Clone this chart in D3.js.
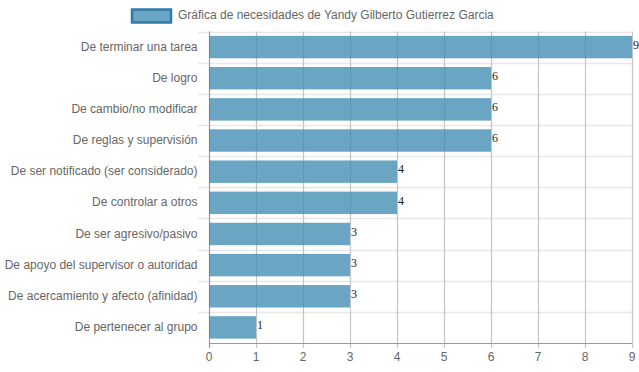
<!DOCTYPE html>
<html><head><meta charset="utf-8">
<script src="https://cdn.jsdelivr.net/npm/d3@7"></script>
<style>body{margin:0;background:#fff;} svg{display:block;font-family:"Liberation Sans",Arial,sans-serif;}</style>
</head><body>
<svg id="c" width="639" height="372"></svg>
<script>
const categories = ["De terminar una tarea","De logro","De cambio/no modificar","De reglas y supervisión","De ser notificado (ser considerado)","De controlar a otros","De ser agresivo/pasivo","De apoyo del supervisor o autoridad","De acercamiento y afecto (afinidad)","De pertenecer al grupo"];
const values = [9,6,6,6,4,4,3,3,3,1];
const xTicks = [0,1,2,3,4,5,6,7,8,9];
const seriesName = "Gráfica de necesidades de Yandy Gilberto Gutierrez Garcia";

(function(){
const svg = d3.select("#c");
const pLeft = 209, pRight = 632, pTop = 31.5, pBottom = 343;
const x = d3.scaleLinear().domain([0,9]).range([pLeft,pRight]);
const y = d3.scaleBand().domain(categories).range([pTop,pBottom]).paddingInner(0).paddingOuter(0);
const barFill = "rgba(69,144,181,0.8)", barStroke = "#2f7ca6";

const hb = categories.map((c)=>y(c));
svg.append("g").selectAll("line").data(hb).join("line")
  .attr("x1",198).attr("x2",pRight).attr("y1",d=>Math.round(d)+0.5).attr("y2",d=>Math.round(d)+0.5)
  .attr("stroke","#e8e8e8").attr("stroke-width",1.5);

svg.append("g").selectAll("line").data(xTicks).join("line")
  .attr("x1",d=>Math.round(x(d))+0.5).attr("x2",d=>Math.round(x(d))+0.5)
  .attr("y1",pTop).attr("y2",pBottom+5)
  .attr("stroke",d=>d===0?"#9a9a9a":"#c4c4c4").attr("stroke-width",1.2);

svg.append("line").attr("x1",pLeft).attr("x2",pRight).attr("y1",Math.round(pBottom)+0.5).attr("y2",Math.round(pBottom)+0.5)
  .attr("stroke","#9a9a9a");

const bh = y.bandwidth()*0.72;
svg.append("g").selectAll("rect").data(values).join("rect")
  .attr("x",x(0)).attr("y",(d,i)=>y(categories[i])+(y.bandwidth()-bh)/2)
  .attr("width",d=>x(d)-x(0)).attr("height",bh)
  .attr("fill",barFill);

svg.append("g").selectAll("text").data(values).join("text")
  .attr("x",d=>x(d)+1).attr("y",(d,i)=>y(categories[i])+y.bandwidth()/2-1)
  .attr("dominant-baseline","middle")
  .style("font-family","'Liberation Serif','Times New Roman',serif").style("font-size","12px")
  .attr("fill","#222").text(d=>d);

svg.append("g").selectAll("text").data(categories).join("text")
  .attr("x",197.5).attr("y",c=>y(c)+y.bandwidth()/2+0.5)
  .attr("text-anchor","end").attr("dominant-baseline","middle")
  .style("font-size","12px").attr("fill","#666").text(c=>c);

svg.append("g").selectAll("text").data(xTicks).join("text")
  .attr("x",d=>x(d)).attr("y",358).attr("text-anchor","middle").attr("dominant-baseline","middle")
  .style("font-size","12px").attr("fill","#666").text(d=>d);

svg.append("rect").attr("x",132).attr("y",9.5).attr("width",39).attr("height",13)
  .attr("fill",barFill).attr("stroke",barStroke).attr("stroke-width",2.5);
svg.append("text").attr("x",178).attr("y",16).attr("dominant-baseline","middle")
  .style("font-size","12px").attr("fill","#666").text(seriesName);
})();
</script>
</body></html>
